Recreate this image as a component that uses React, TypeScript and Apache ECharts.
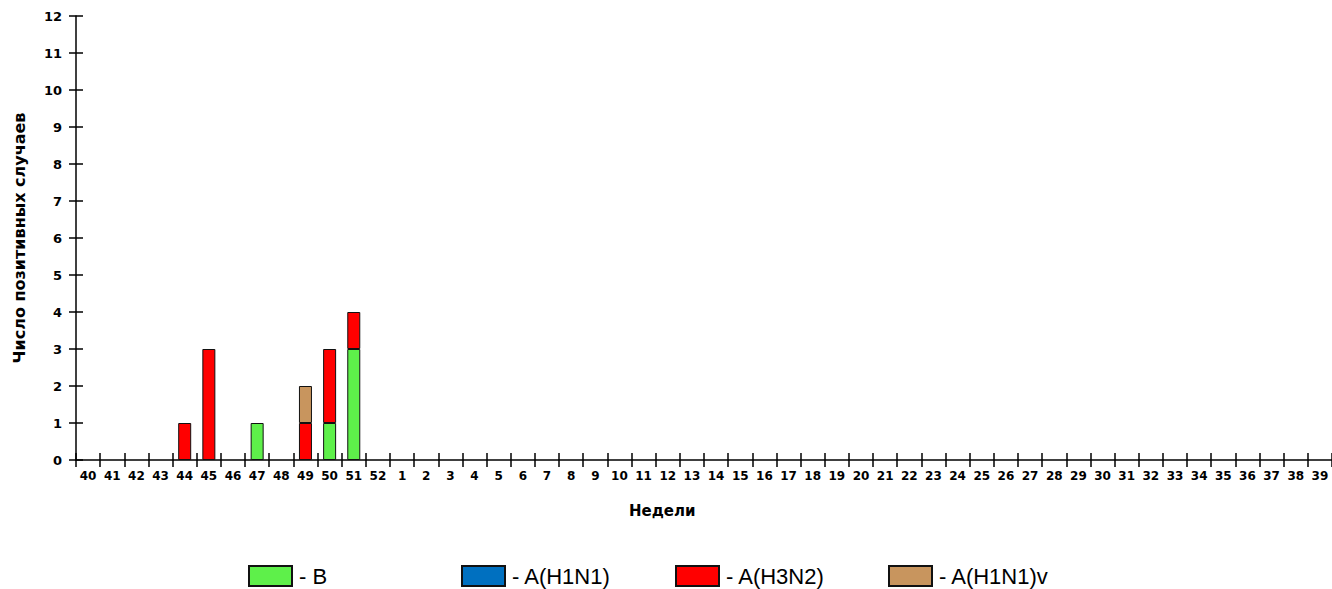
import React, { useEffect, useRef } from "react";
import * as echarts from "echarts";

const weeks: string[] = [
  "40", "41", "42", "43", "44", "45", "46", "47", "48", "49", "50", "51", "52",
  "1", "2", "3", "4", "5", "6", "7", "8", "9", "10", "11", "12", "13", "14", "15",
  "16", "17", "18", "19", "20", "21", "22", "23", "24", "25", "26", "27", "28", "29",
  "30", "31", "32", "33", "34", "35", "36", "37", "38", "39",
];

// values for weeks 40..52 (rest are zero)
const valuesB: number[] = [0, 0, 0, 0, 0, 0, 0, 1, 0, 0, 1, 3, 0];
const valuesH1N1: number[] = [0, 0, 0, 0, 0, 0, 0, 0, 0, 0, 0, 0, 0];
const valuesH3N2: number[] = [0, 0, 0, 0, 1, 3, 0, 0, 0, 1, 2, 1, 0];
const valuesH1N1v: number[] = [0, 0, 0, 0, 0, 0, 0, 0, 0, 1, 0, 0, 0];

const seriesNames: string[] = ["B", "A(H1N1)", "A(H3N2)", "A(H1N1)v"];
const seriesColors: string[] = ["#5ef04a", "#0070c0", "#ff0000", "#c8955e"];
const legendLefts: number[] = [248, 461, 675, 888];

const yTicks = { min: 0, max: 12, interval: 1 };

function full(vals: number[]): (number | null)[] {
  return weeks.map((_, i) => {
    const v = i < vals.length ? vals[i] : 0;
    return v === 0 ? null : v;
  });
}

export default function App() {
  const ref = useRef<HTMLDivElement>(null);
  useEffect(() => {
    if (!ref.current) return;
    const chart = echarts.init(ref.current, undefined, { renderer: "svg" });
    const all = [valuesB, valuesH1N1, valuesH3N2, valuesH1N1v];
    const bold = "'DejaVu Sans', Verdana, sans-serif";
    const font = "Arial, 'Liberation Sans', sans-serif";
    chart.setOption({
      animation: false,
      backgroundColor: "#ffffff",
      grid: { left: 76, right: 0, top: 16, bottom: 129, containLabel: false },
      xAxis: [
        {
          type: "category",
          data: weeks,
          boundaryGap: true,
          axisLine: { show: true, lineStyle: { color: "#000", width: 1.5 } },
          axisTick: { show: true, length: 7, interval: 0, lineStyle: { color: "#000", width: 1.5 } },
          axisLabel: {
            interval: 0,
            margin: 10,
            color: "#000",
            fontWeight: "bold",
            fontSize: 12,
            fontFamily: bold,
          },
          splitLine: { show: false },
        },
        {
          type: "category",
          data: weeks,
          boundaryGap: true,
          position: "bottom",
          axisLine: { show: false },
          axisTick: { show: true, inside: true, length: 7, interval: 0, lineStyle: { color: "#000", width: 1.5 } },
          axisLabel: { show: false },
          splitLine: { show: false },
        },
      ],
      yAxis: [
        {
          type: "value",
          min: yTicks.min,
          max: yTicks.max,
          interval: yTicks.interval,
          name: "Число позитивных случаев",
          nameLocation: "middle",
          nameGap: 49,
          nameTextStyle: { color: "#000", fontWeight: "bold", fontSize: 16, fontFamily: bold },
          axisLine: { show: true, lineStyle: { color: "#000", width: 1.5 } },
          axisTick: { show: true, length: 7, lineStyle: { color: "#000", width: 1.5 } },
          axisLabel: { margin: 14, color: "#000", fontWeight: "bold", fontSize: 13, fontFamily: bold },
          splitLine: { show: false },
        },
        {
          type: "value",
          min: yTicks.min,
          max: yTicks.max,
          interval: yTicks.interval,
          position: "left",
          axisLine: { show: false },
          axisTick: { show: true, inside: true, length: 7, lineStyle: { color: "#000", width: 1.5 } },
          axisLabel: { show: false },
          splitLine: { show: false },
        },
      ],
      legend: seriesNames.map((n, i) => ({
        data: [n],
        left: legendLefts[i],
        top: 565,
        padding: 0,
        itemWidth: 43,
        itemHeight: 20,
        itemGap: 0,
        icon: "rect",
        selectedMode: false,
        formatter: "- {name}",
        textStyle: { color: "#000", fontSize: 22, fontFamily: font, padding: [0, 0, 0, 2] },
      })),
      graphic: [
        {
          type: "text",
          left: 629,
          top: 503,
          style: { text: "Недели", font: `bold 15px ${bold}`, fill: "#000" },
        },
      ],
      series: seriesNames.map((n, i) => ({
        name: n,
        type: "bar",
        stack: "total",
        xAxisIndex: 0,
        yAxisIndex: 0,
        barWidth: 13,
        data: full(all[i]),
        itemStyle: { color: seriesColors[i], borderColor: "#111", borderWidth: 1 },
      })),
    });
    return () => chart.dispose();
  }, []);
  return (
    <div
      ref={ref}
      style={{ position: "fixed", left: 0, top: 0, width: 1332, height: 589 }}
    />
  );
}
